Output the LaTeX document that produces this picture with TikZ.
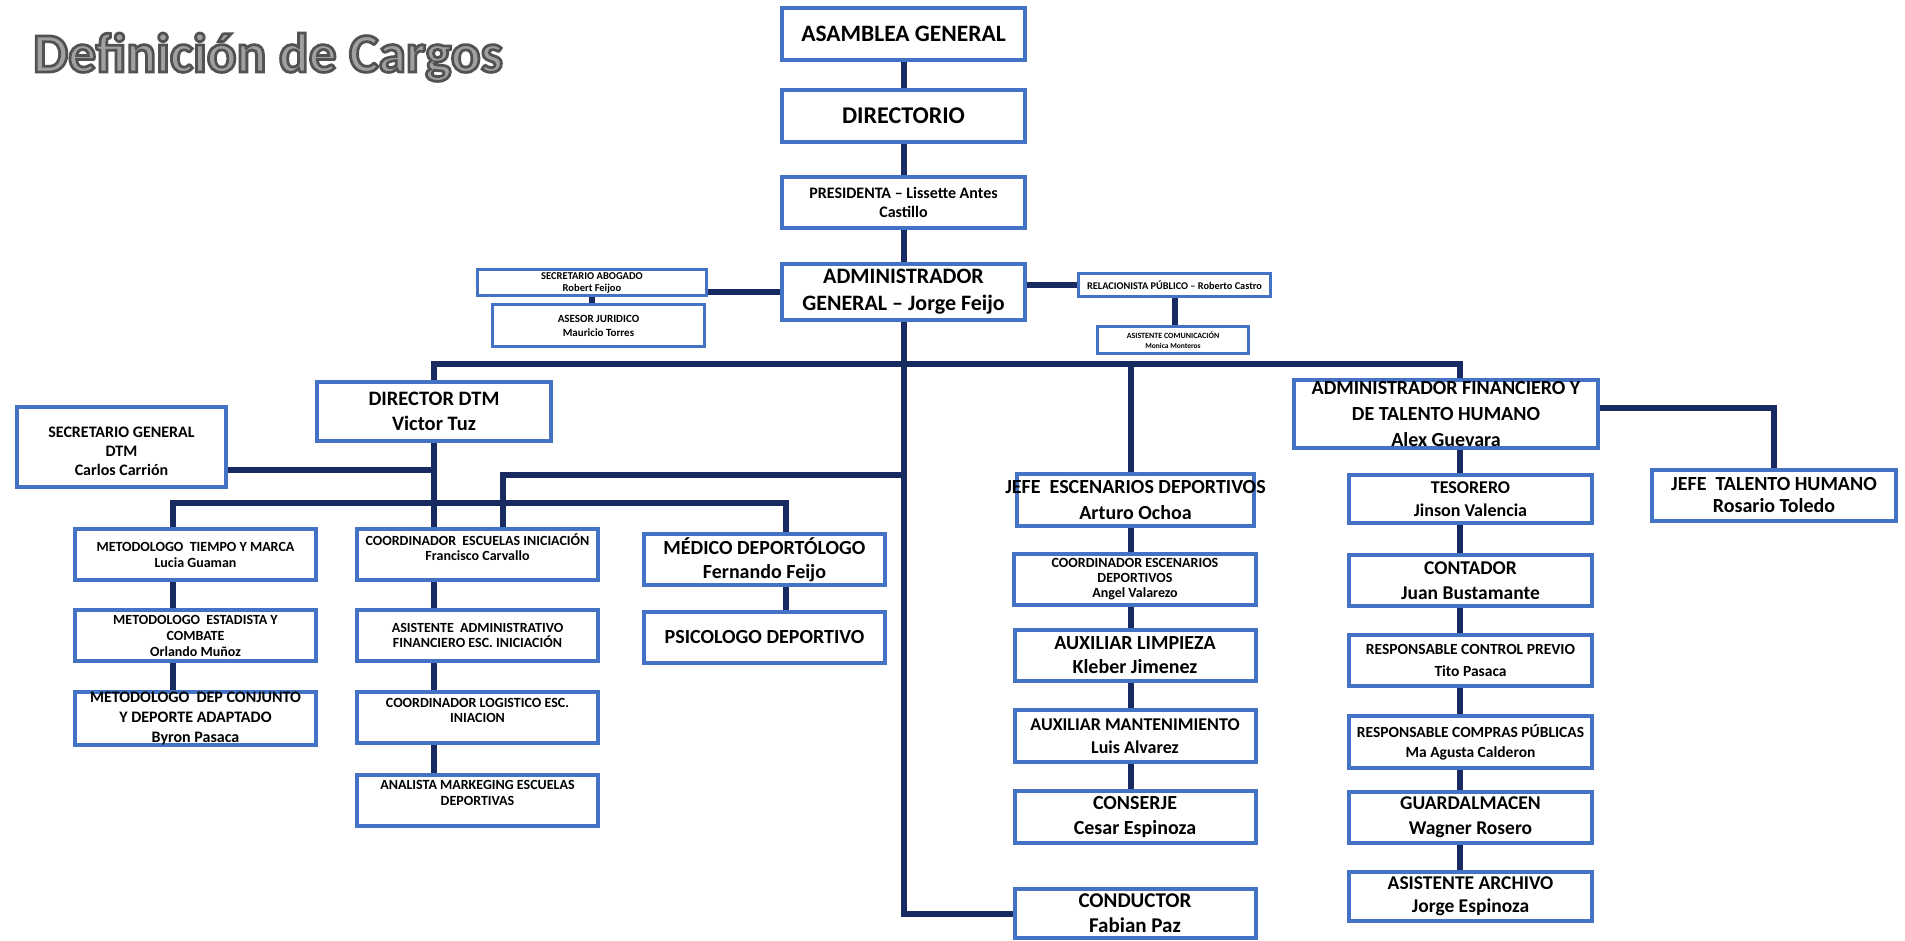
\documentclass[tikz,border=0pt]{standalone}
\usepackage{fontspec}
\setmainfont{Carlito}
\newfontfamily\fuentetitulo{Carlito Bold}[FakeBold=5]
\usepackage{tikz}
\usetikzlibrary{positioning,calc}

\definecolor{bordecargo}{RGB}{68,114,196}
\definecolor{azuloscuro}{RGB}{24,42,98}
\definecolor{grisrelleno}{RGB}{160,160,160}

\newcommand{\tam}[2]{\fontsize{#1}{#2}\selectfont}
\newcommand{\sobra}[1]{\makebox[0pt]{#1}}
% trazo gris oscuro alrededor de las letras del titulo
\newcommand{\contorno}{\special{pdf:literal direct 0.32 0.32 0.32 RG}}

\tikzset{
  cargo/.style={draw=bordecargo, line width=4pt, fill=white, align=center, inner sep=0pt, text=black},
  cargochico/.style={cargo, line width=3pt},
  conector/.style={draw=azuloscuro, line width=6pt},
  titulo/.style={font=\fuentetitulo\tam{55.5}{60}, anchor=base west, inner sep=0pt}
}

\begin{document}
\begin{tikzpicture}[x=1pt, y=-1pt]
    \fill[white] (0,0) rectangle (1905,941);
    \useasboundingbox (0,0) rectangle (1905,941);

    % Titulo
    \node[titulo, text=grisrelleno] (titulo) at (33,72) {\contorno Definición de Cargos};

    % Columna central
    \node[cargo, minimum width=243, minimum height=52, font=\bfseries\tam{23.5}{27}] (asamblea) at (903.5,34) {ASAMBLEA GENERAL};
    \node[cargo, minimum width=243, minimum height=52, font=\bfseries\tam{24}{28}] (directorio) at (903.5,116) {DIRECTORIO};
    \node[cargo, minimum width=243, minimum height=51, font=\bfseries\tam{16}{19}] (presidenta) at (903.5,202.5) {PRESIDENTA -- Lissette Antes\\Castillo};
    \node[cargo, minimum width=243, minimum height=56, font=\bfseries\tam{22}{27}] (admin) at (903.5,292) {ADMINISTRADOR\\GENERAL -- Jorge Feijo};

    % Asesores
    \node[cargochico, minimum width=229, minimum height=26, font=\bfseries\tam{10.5}{12}] (secabog) at (592,282.5) {SECRETARIO ABOGADO\\Robert Feijoo};
    \node[cargochico, minimum width=212, minimum height=42, font=\bfseries\tam{11}{14}] (asesor) at (598.5,325.5) {ASESOR JURIDICO\\Mauricio Torres};
    \node[cargochico, minimum width=192, minimum height=23, font=\bfseries\tam{10.3}{11}] (relac) at (1174.5,285) {RELACIONISTA PÚBLICO -- Roberto Castro};
    \node[cargochico, minimum width=151, minimum height=27, font=\bfseries\tam{8}{9.5}] (asiscom) at (1173,340) {ASISTENTE COMUNICACIÓN\\{\tam{7.5}{9.5}Monica Monteros}};

    % Direccion tecnica
    \node[cargo, minimum width=234, minimum height=59, font=\bfseries\tam{20.5}{25}] (dtm) at (434,411.5) {DIRECTOR DTM\\Victor Tuz};
    \node[cargo, minimum width=209, minimum height=80, font=\bfseries\tam{16}{19}] (sgdtm) at (121.5,447) {~\\SECRETARIO GENERAL\\DTM\\Carlos Carrión};

    \node[cargo, minimum width=241, minimum height=51, font=\bfseries\tam{14}{16}] (metotiempo) at (195.5,554.5) {METODOLOGO~~TIEMPO Y MARCA\\Lucia Guaman};
    \node[cargo, minimum width=241, minimum height=51, font=\bfseries\tam{14}{16}] (metoestad) at (195.5,635.5) {METODOLOGO~~ESTADISTA Y\\COMBATE\\Orlando Muñoz};
    \node[cargo, minimum width=241, minimum height=53, font=\bfseries\tam{16}{20}] (metodep) at (195.5,718.5) {METODOLOGO~~DEP CONJUNTO\\Y DEPORTE ADAPTADO\\Byron Pasaca};

    \node[cargo, minimum width=241, minimum height=51, font=\bfseries\tam{14}{15}] (coordesc) at (477.5,554.5) {COORDINADOR~~ESCUELAS INICIACIÓN\\Francisco Carvallo\\~};
    \node[cargo, minimum width=241, minimum height=51, font=\bfseries\tam{14}{15}] (asisadm) at (477.5,635.5) {ASISTENTE~~ADMINISTRATIVO\\FINANCIERO ESC. INICIACIÓN};
    \node[cargo, minimum width=241, minimum height=51, font=\bfseries\tam{14}{15}] (coordlog) at (477.5,717.5) {COORDINADOR LOGISTICO ESC.\\INIACION\\~};
    \node[cargo, minimum width=241, minimum height=51, font=\bfseries\tam{14}{16}] (analista) at (477.5,800.5) {ANALISTA MARKEGING ESCUELAS\\DEPORTIVAS\\~};

    \node[cargo, minimum width=241, minimum height=51, font=\bfseries\tam{20}{24}] (medico) at (764.5,559.5) {MÉDICO DEPORTÓLOGO\\Fernando Feijo};
    \node[cargo, minimum width=241, minimum height=51, font=\bfseries\tam{20}{24}] (psico) at (764.5,637.5) {PSICOLOGO DEPORTIVO};

    % Escenarios
    \node[cargo, minimum width=237, minimum height=52, font=\bfseries\tam{20}{26}] (jefeesc) at (1135.5,500) {\sobra{JEFE~~ESCENARIOS DEPORTIVOS}\\Arturo Ochoa};
    \node[cargo, minimum width=242, minimum height=51, font=\bfseries\tam{14}{15}] (coordescen) at (1135,579.5) {COORDINADOR ESCENARIOS\\DEPORTIVOS\\Angel Valarezo};
    \node[cargo, minimum width=241, minimum height=51, font=\bfseries\tam{20}{24}] (auxlimp) at (1135,655.5) {AUXILIAR LIMPIEZA\\Kleber Jimenez};
    \node[cargo, minimum width=241, minimum height=52, font=\bfseries\tam{18}{23}] (auxmant) at (1135,736) {AUXILIAR MANTENIMIENTO\\Luis Alvarez};
    \node[cargo, minimum width=241, minimum height=52, font=\bfseries\tam{20}{25}] (conserje) at (1135,817) {CONSERJE\\Cesar Espinoza};
    \node[cargo, minimum width=241, minimum height=49, font=\bfseries\tam{21}{25}] (conductor) at (1135,913.5) {CONDUCTOR\\Fabian Paz};

    % Financiero
    \node[cargo, minimum width=304, minimum height=68, font=\bfseries\tam{20}{26}] (admfin) at (1446,414) {ADMINISTRADOR FINANCIERO Y\\DE TALENTO HUMANO\\Alex Guevara};
    \node[cargo, minimum width=244, minimum height=51, font=\bfseries\tam{20}{22}] (jefetal) at (1774,495.5) {JEFE~~TALENTO HUMANO\\Rosario Toledo};
    \node[cargo, minimum width=243, minimum height=48, font=\bfseries\tam{18}{23}] (tesorero) at (1470.5,499) {TESORERO\\Jinson Valencia};
    \node[cargo, minimum width=243, minimum height=51, font=\bfseries\tam{19.5}{25}] (contador) at (1470.5,580.5) {CONTADOR\\Juan Bustamante};
    \node[cargo, minimum width=243, minimum height=51, font=\bfseries\tam{15.5}{22}] (control) at (1470.5,660.5) {\sobra{RESPONSABLE CONTROL PREVIO}\\Tito Pasaca};
    \node[cargo, minimum width=243, minimum height=52, font=\bfseries\tam{15.5}{20}] (compras) at (1470.5,742) {\sobra{RESPONSABLE COMPRAS PÚBLICAS}\\Ma Agusta Calderon};
    \node[cargo, minimum width=243, minimum height=51, font=\bfseries\tam{19.5}{25}] (guard) at (1470.5,817.5) {GUARDALMACEN\\Wagner Rosero};
    \node[cargo, minimum width=243, minimum height=49, font=\bfseries\tam{19.5}{23}] (archivo) at (1470.5,896.5) {ASISTENTE ARCHIVO\\Jorge Espinoza};

    % Puntos de union
    \coordinate (barra) at (903.5,364);
    \coordinate (ejeder) at (1460,0);
    \coordinate (ejeesc) at (1131,0);
    \coordinate (jsg) at (434,470);
    \coordinate (jcoord) at (503,475);
    \coordinate (ejemet) at (173,503);
    \coordinate (ejemed) at (786,503);
    \coordinate (jtal) at (1600,408);

    % Tronco central
    \draw[conector] (asamblea) -- (directorio);
    \draw[conector] (directorio) -- (presidenta);
    \draw[conector] (presidenta) -- (admin);
    \draw[conector] (admin.south) |- (conductor.west);

    % Asesores
    \draw[conector] (admin.west) -- (admin.west -| secabog.east);
    \draw[conector] (secabog.south) -- (secabog.south |- asesor.north);
    \draw[conector] (relac.west) -- (relac.west -| admin.east);
    \draw[conector] (relac.south) -- (relac.south |- asiscom.north);

    % Barra principal
    \draw[conector] (dtm.north) |- (barra) -| (ejeder |- admfin.north);
    \draw[conector] (barra) -| (ejeesc |- jefeesc.north);

    % Direccion tecnica
    \draw[conector] (dtm.south) -- (dtm.south |- coordesc.north);
    \draw[conector] (sgdtm.east |- jsg) -- (jsg);
    \draw[conector] (ejemet |- metotiempo.north) -- (ejemet) -- (ejemed) -- (ejemed |- medico.north);
    \draw[conector] (ejemet |- metotiempo.south) -- (ejemet |- metoestad.north);
    \draw[conector] (ejemet |- metoestad.south) -- (ejemet |- metodep.north);
    \draw[conector] (admin.south |- jcoord) -- (jcoord) -- (jcoord |- coordesc.north);
    \draw[conector] (dtm.south |- coordesc.south) -- (dtm.south |- asisadm.north);
    \draw[conector] (dtm.south |- asisadm.south) -- (dtm.south |- coordlog.north);
    \draw[conector] (dtm.south |- coordlog.south) -- (dtm.south |- analista.north);
    \draw[conector] (ejemed |- medico.south) -- (ejemed |- psico.north);

    % Escenarios
    \draw[conector] (ejeesc |- jefeesc.south) -- (ejeesc |- coordescen.north);
    \draw[conector] (ejeesc |- coordescen.south) -- (ejeesc |- auxlimp.north);
    \draw[conector] (ejeesc |- auxlimp.south) -- (ejeesc |- auxmant.north);
    \draw[conector] (ejeesc |- auxmant.south) -- (ejeesc |- conserje.north);

    % Financiero
    \draw[conector] (jtal) -| (jefetal.north);
    \draw[conector] (ejeder |- admfin.south) -- (ejeder |- tesorero.north);
    \draw[conector] (ejeder |- tesorero.south) -- (ejeder |- contador.north);
    \draw[conector] (ejeder |- contador.south) -- (ejeder |- control.north);
    \draw[conector] (ejeder |- control.south) -- (ejeder |- compras.north);
    \draw[conector] (ejeder |- compras.south) -- (ejeder |- guard.north);
    \draw[conector] (ejeder |- guard.south) -- (ejeder |- archivo.north);
\end{tikzpicture}
\end{document}
